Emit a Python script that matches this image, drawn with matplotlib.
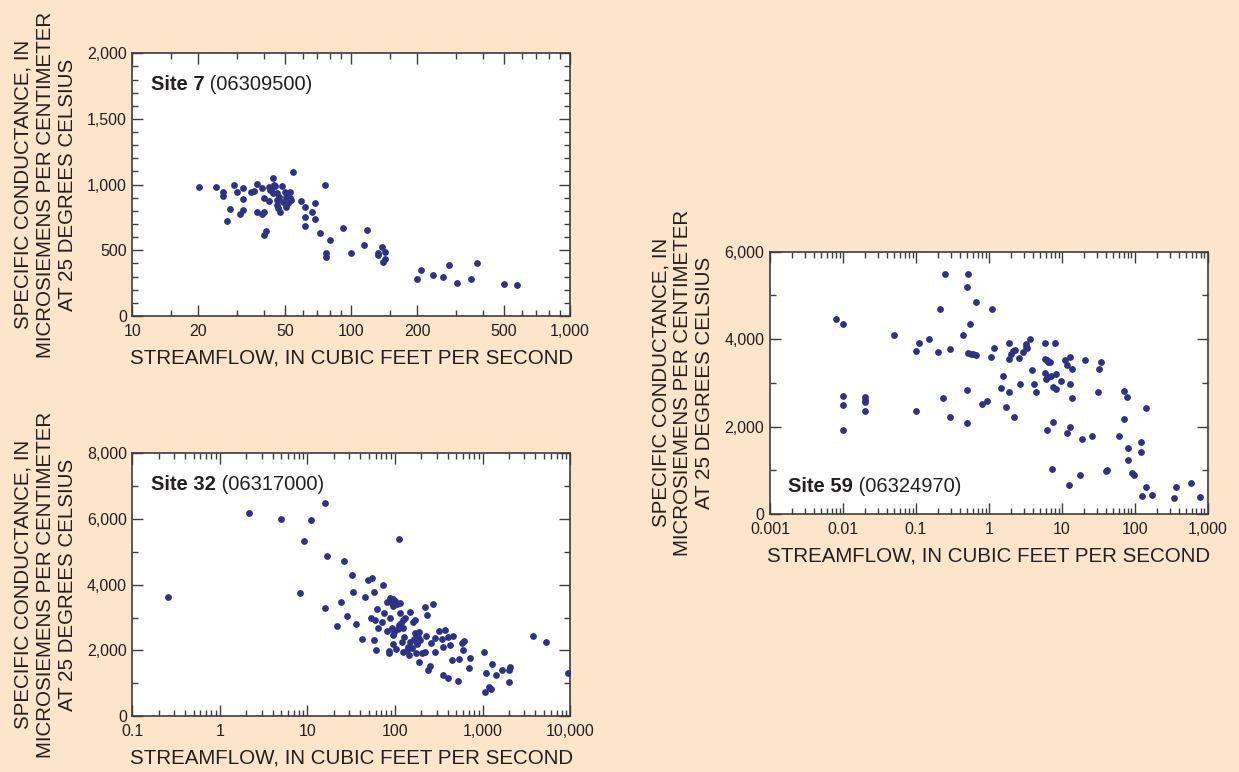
import numpy as np
import matplotlib
matplotlib.use("Agg")
import matplotlib.pyplot as plt
from matplotlib.ticker import FixedLocator, LogLocator, NullFormatter, FuncFormatter, MultipleLocator

plt.rcParams['font.family'] = ['Liberation Sans', 'DejaVu Sans']

# colours
bg = '#FDE5CB'
dot = '#2D3282'
ink = '#231F20'
frame = '#3C3C3C'

ylab = "SPECIFIC CONDUCTANCE, IN\nMICROSIEMENS PER CENTIMETER\nAT 25 DEGREES CELSIUS"
xlab = "STREAMFLOW, IN CUBIC FEET PER SECOND"

# Site 7 (06309500)
q7 = [20.1, 24.1, 26.0, 26.0, 29.0, 30.1, 32.1, 32.1, 32.0, 28.0, 27.0, 31.1, 34.8, 36.1,
      37.0, 37.0, 39.1, 39.0, 40.1, 39.8, 40.1, 41.0, 41.9, 42.2, 44.1, 43.0, 43.8, 44.8,
      45.6, 45.6, 46.0, 46.4, 47.3, 48.1, 49.8, 50.6, 51.6, 52.6, 52.6, 50.6, 54.0, 58.9,
      61.2, 61.2, 61.2, 65.9, 68.0, 68.0, 71.9, 76.1, 76.9, 76.9, 79.9, 91.9, 100, 114.7,
      117.5, 132.8, 132.8, 137.6, 142.9, 140, 142.9, 200, 208.7, 237.6, 263, 280, 305,
      353, 377, 500, 574, 42.5, 47.0, 44.5, 49.0, 53.0]
sc7 = [980, 980, 947, 916, 997, 947, 977, 888, 810, 817, 723, 779, 947, 954,
       1005, 792, 977, 779, 792, 898, 617, 647, 878, 985, 1048, 959, 934, 992,
       934, 883, 845, 820, 794, 992, 947, 909, 858, 947, 896, 832, 1096, 876,
       827, 751, 688, 794, 858, 739, 634, 997, 482, 452, 579, 667, 482, 541,
       655, 482, 464, 523, 490, 411, 436, 279, 350, 310, 294, 391, 249,
       284, 401, 241, 233, 960, 905, 1000, 870, 880]

# Site 32 (06317000)
q32 = [0.254, 2.13, 5.04, 11.0, 16.0, 9.23, 8.16, 16.9, 26.0, 112, 32.1, 49.7, 54.2, 73.6,
       32.9, 45.9, 57.7, 24.0, 16.0, 28.1, 22.0, 35.9, 42.0, 57.7, 61.3, 63.6, 63.0, 53.3,
       59.2, 71.1, 75.6, 80.5, 84.8, 84.8, 87.9, 82, 88, 92, 96, 95, 100, 105,
       92.7, 95.9, 95.9, 103, 114, 114, 117, 111, 125, 130, 125, 127, 119, 147, 162, 170,
       122, 136, 146, 155, 170, 177, 185, 190, 193, 173, 188, 202, 220, 224, 220, 234,
       240, 251, 258, 275, 290, 290, 316, 342, 351, 376, 408, 425, 464, 351, 408, 453,
       521, 545, 578, 615, 604, 721, 695, 1040, 1088, 1070, 1198, 1241, 1274, 1416, 1687,
       1991, 2081, 2010, 3810, 5370, 9400, 140, 150, 165, 180, 108, 98]
sc32 = [3634, 6183, 6010, 5980, 6477, 5330, 3756, 4883, 4731, 5380, 4284, 4142, 4193, 3990,
        3787, 3634, 3787, 3482, 3289, 3056, 2741, 2792, 2335, 2304, 2000, 2690, 3249, 2995,
        2924, 2873, 3147, 2599, 1990, 1909, 2995, 3480, 3600, 3450, 3560, 3350, 3500, 3400,
        2670, 2467, 2193, 2030, 3452, 3127, 2822, 2771, 2924, 2975, 2670, 2416, 2264, 3178, 2873, 2924,
        1959, 2010, 1858, 2061, 2518, 2213, 2416, 2568, 2315, 1909, 1634, 1909, 1949, 2436, 3330, 3076,
        1401, 1533, 2213, 3411, 2365, 1959, 2589, 2335, 2091, 2619, 2416, 2162, 2447, 1249, 1167, 1706,
        1076, 1736, 2213, 2284, 2010, 1756, 1472, 1949, 1320, 741, 873, 822, 1594, 1239, 1401,
        1401, 1503, 1025, 2436, 2254, 1300, 2100, 2250, 2350, 2200, 2650, 2550]

# Site 59 (06324970)
q59 = [0.00804, 0.0101, 0.0101, 0.0101, 0.0101, 0.0201, 0.0201, 0.0201, 0.0201, 0.0496,
       0.1005, 0.110, 0.1005, 0.150, 0.199, 0.2165, 0.251, 0.238, 0.297, 0.297, 0.4385,
       0.519, 0.497, 0.675, 0.559, 0.52, 0.56, 0.61, 0.67, 0.497, 0.497, 0.815, 0.944,
       1.06, 1.094, 1.19, 1.485, 1.58, 1.69, 1.87, 1.87, 1.89, 2.04, 2.19, 2.16, 2.31,
       2.57, 2.68, 2.97, 3.2, 3.25, 3.3, 3.67, 3.87, 4.17, 4.44, 5.9, 5.84, 6.2, 6.55,
       6.8, 5.84, 6.15, 6.55, 7.05, 8.26, 7.51, 8.34, 8.09, 9.77, 6.35, 7.67, 7.28,
       10.96, 11.9, 13.0, 13.8, 13.0, 13.8, 13.0, 11.9, 12.7, 20.8, 18.6, 25.5, 17.8,
       34.2, 32.4, 30.8, 40, 41.3, 61.6, 71.4, 78.5, 70.7, 81.1, 80.2, 91.9, 98.9,
       122, 121, 144.5, 141.6, 124.8, 173, 346, 372, 586, 771]
sc59 = [4452, 4353, 2699, 2501, 1921, 2668, 2607, 2554, 2348, 4086,
        3720, 3903, 2348, 4003, 3698, 4696, 5489, 2645, 3774, 2219, 4094,
        5489, 5192, 4841, 4353, 3675, 3660, 3652, 3637, 2844, 2081, 2516, 2577,
        3591, 4689, 3789, 2874, 3149, 2447, 3911, 3553, 2783, 3660, 2219, 3728, 3751,
        3576, 2973, 3713, 3827, 3881, 3789, 3995, 3294, 2973, 2790, 3911, 3553, 3522, 3484,
        3469, 3225, 3095, 3141, 3164, 3202, 2897, 2851, 3903, 3050, 1929, 2097, 1037,
        3522, 3408, 3598, 3316, 2973, 2661, 1982, 1845, 671, 3522, 1715, 1776, 884,
        3477, 3324, 2790, 991, 1014, 1776, 2821, 2684, 2165, 1502, 1227, 930, 900,
        1647, 1410, 2424, 610, 404, 427, 374, 625, 701, 396]

fmt = FuncFormatter(lambda v, p: f'{v:,.0f}' if v >= 1 else f'{v:g}')


def site_title(ax, x, y, bold, rest):
	t = ax.text(x, y, bold, transform=ax.transAxes, fontsize=14.5, fontweight='bold',
		color=ink, ha='left', va='bottom')
	ax.annotate(rest, xy=(1, 0), xycoords=t, fontsize=14.5, color=ink, ha='left', va='bottom')


def panel(rect, q, sc, xlim, ylim, ymaj, ymin, xmaj, xminor, title, title_y):
	ax = fig.add_axes(rect)
	ax.scatter(q, sc, s=24, color=dot, linewidths=0, zorder=3)
	ax.set_xscale('log')
	ax.set_xlim(*xlim)
	ax.set_ylim(*ylim)
	ax.xaxis.set_major_locator(FixedLocator(xmaj))
	ax.xaxis.set_minor_locator(xminor)
	ax.xaxis.set_major_formatter(fmt)
	ax.xaxis.set_minor_formatter(NullFormatter())
	ax.yaxis.set_major_locator(MultipleLocator(ymaj))
	ax.yaxis.set_minor_locator(MultipleLocator(ymin))
	ax.yaxis.set_major_formatter(FuncFormatter(lambda v, p: f'{v:,.0f}'))
	ax.tick_params(which='both', direction='in', top=True, right=True, colors=frame,
		labelcolor=ink, labelsize=11.5)
	ax.tick_params(which='major', length=8, width=1.0)
	ax.tick_params(which='minor', length=4, width=1.0)
	ax.tick_params(axis='x', pad=6)
	ax.tick_params(axis='y', pad=4)
	for s in ax.spines.values():
		s.set_color(frame)
		s.set_linewidth(1.2)
	ax.text(-0.199, 0.5, ylab, transform=ax.transAxes, rotation=90, ha='center', va='center',
		multialignment='center', fontsize=14.8, color=ink, linespacing=1.2)
	ax.text(0.5, -0.16, xlab, transform=ax.transAxes, ha='center', va='center',
		fontsize=14.8, color=ink)
	site_title(ax, 0.042, title_y, title[0], title[1])
	return ax


fig = plt.figure(figsize=(12.39, 7.72), dpi=100, facecolor=bg)

panel([0.1068, 0.5907, 0.3533, 0.3403], q7, sc7, (10, 1000), (0, 2000), 500, 100,
	[10, 20, 50, 100, 200, 500, 1000],
	FixedLocator([15, 30, 40, 60, 70, 80, 90, 150, 300, 400, 600, 700, 800, 900]),
	('Site 7', ' (06309500)'), 0.845)

panel([0.1068, 0.0725, 0.3533, 0.3403], q32, sc32, (0.1, 10000), (0, 8000), 2000, 1000,
	[0.1, 1, 10, 100, 1000, 10000], LogLocator(base=10, subs=np.arange(2, 10), numticks=20),
	('Site 32', ' (06317000)'), 0.845)

panel([0.6215, 0.3342, 0.3533, 0.3398], q59, sc59, (0.001, 1000), (0, 6000), 2000, 1000,
	[0.001, 0.01, 0.1, 1, 10, 100, 1000], LogLocator(base=10, subs=np.arange(2, 10), numticks=20),
	('Site 59', ' (06324970)'), 0.07)

fig.savefig('out.png', dpi=100, facecolor=bg)
